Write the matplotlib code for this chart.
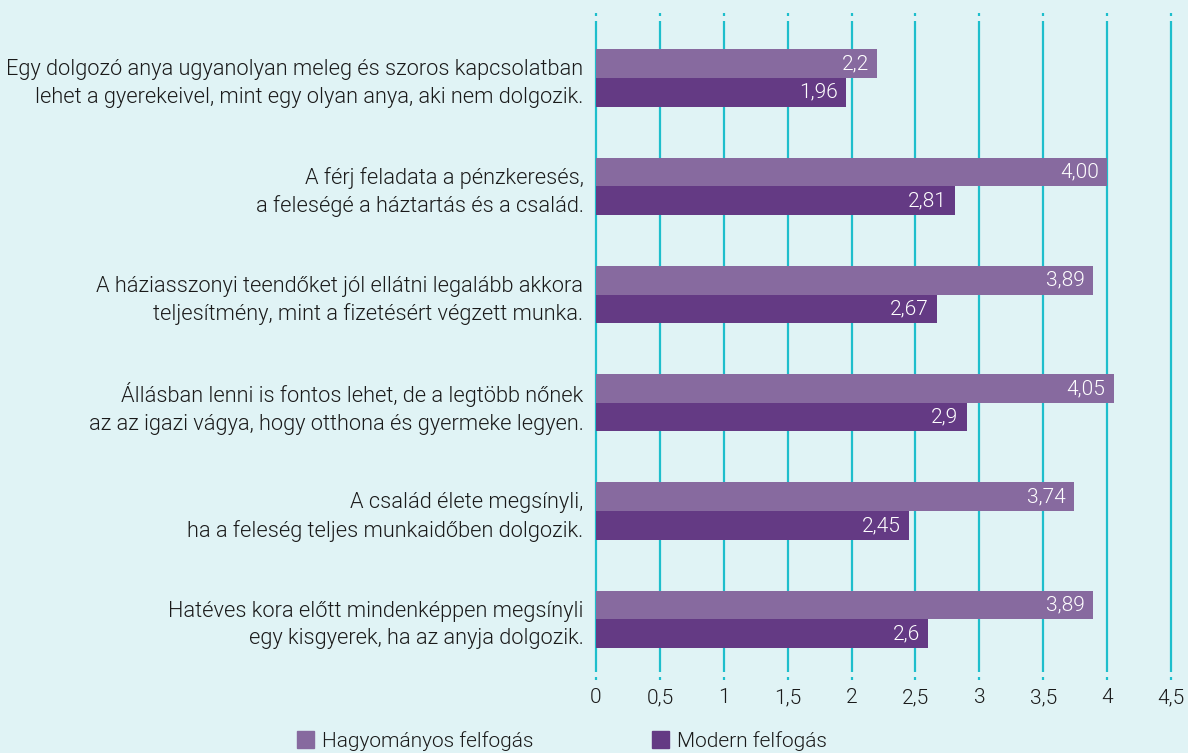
import matplotlib
matplotlib.use("Agg")
import matplotlib.pyplot as plt
from matplotlib.patches import Rectangle
import numpy as np

categories = [
    "Egy dolgozó anya ugyanolyan meleg és szoros kapcsolatban\nlehet a gyerekeivel, mint egy olyan anya, aki nem dolgozik.",
    "A férj feladata a pénzkeresés,\na feleségé a háztartás és a család.",
    "A háziasszonyi teendőket jól ellátni legalább akkora\nteljesítmény, mint a fizetésért végzett munka.",
    "Állásban lenni is fontos lehet, de a legtöbb nőnek\naz az igazi vágya, hogy otthona és gyermeke legyen.",
    "A család élete megsínyli,\nha a feleség teljes munkaidőben dolgozik.",
    "Hatéves kora előtt mindenképpen megsínyli\negy kisgyerek, ha az anyja dolgozik.",
]
traditional = [2.2, 4.00, 3.89, 4.05, 3.74, 3.89]
traditional_labels = ["2,2", "4,00", "3,89", "4,05", "3,74", "3,89"]
modern = [1.96, 2.81, 2.67, 2.9, 2.45, 2.6]
modern_labels = ["1,96", "2,81", "2,67", "2,9", "2,45", "2,6"]
series_names = ["Hagyományos felfogás", "Modern felfogás"]
xticks = [0, 0.5, 1, 1.5, 2, 2.5, 3, 3.5, 4, 4.5]
xtick_labels = ["0", "0,5", "1", "1,5", "2", "2,5", "3", "3,5", "4", "4,5"]

BG = "#E0F3F5"
C_LIGHT = "#876A9F"
C_DARK = "#643A84"
GRID = "#1EBECC"
TXT = "#1a1a1a"
FONT = ["Roboto", "DejaVu Sans"]
plt.rcParams['font.family'] = FONT
plt.rcParams['font.weight'] = 300
FS = 15
FS_CAT = 15.7

W, H = 1188, 753
fig = plt.figure(figsize=(W / 100, H / 100), dpi=100, facecolor=BG)
left, right, top, bottom = 596, 1171, 13, 680
ax = fig.add_axes([left / W, 1 - bottom / H, (right - left) / W, (bottom - top) / H])
ax.set_facecolor(BG)
for s in ax.spines.values():
    s.set_visible(False)

ax.set_xlim(0, 4.5)
ax.set_ylim(5.56, -0.6)

# gridlines with small dots at ends
tr = ax.get_xaxis_transform()
for xv in xticks:
    ax.plot([xv, xv], [0.012, 0.988], transform=tr, color=GRID, lw=1.6,
            zorder=0, clip_on=False, solid_capstyle='butt')
    ax.plot([xv, xv], [1.0, 0.996], transform=tr, color=GRID, lw=1.6,
            zorder=0, clip_on=False, solid_capstyle='butt')
    ax.plot([xv, xv], [0.0, 0.004], transform=tr, color=GRID, lw=1.6,
            zorder=0, clip_on=False, solid_capstyle='butt')

y = np.arange(len(categories))
h = 0.265
ax.barh(y - h / 2, traditional, height=h, color=C_LIGHT, zorder=2)
ax.barh(y + h / 2, modern, height=h, color=C_DARK, zorder=2)

for i in range(len(categories)):
    ax.annotate(traditional_labels[i], (traditional[i], y[i] - h / 2), xytext=(-6, 0),
                textcoords="offset points", ha="right", va="center",
                color="white", fontsize=FS, zorder=3)
    ax.annotate(modern_labels[i], (modern[i], y[i] + h / 2), xytext=(-6, 0),
                textcoords="offset points", ha="right", va="center",
                color="white", fontsize=FS, zorder=3)

ax.set_yticks(y)
ax.set_yticklabels(categories, fontsize=FS_CAT, color=TXT, linespacing=1.4)
ax.tick_params(axis="y", length=0, pad=9)
ax.set_xticks(xticks)
ax.set_xticklabels(xtick_labels, fontsize=FS, color=TXT)
ax.tick_params(axis="x", length=0, pad=6)

# legend
handles = [Rectangle((0, 0), 1, 1, color=C_LIGHT), Rectangle((0, 0), 1, 1, color=C_DARK)]
fig.legend(handles, series_names, loc="center left", bbox_to_anchor=(282 / W, 1 - 741 / H),
           ncol=2, frameon=False, fontsize=FS, handlelength=0.85, handleheight=0.85,
           columnspacing=5.7, handletextpad=0.35, labelcolor=TXT, borderpad=0.2)

fig.savefig("out.png", dpi=100, facecolor=BG)
